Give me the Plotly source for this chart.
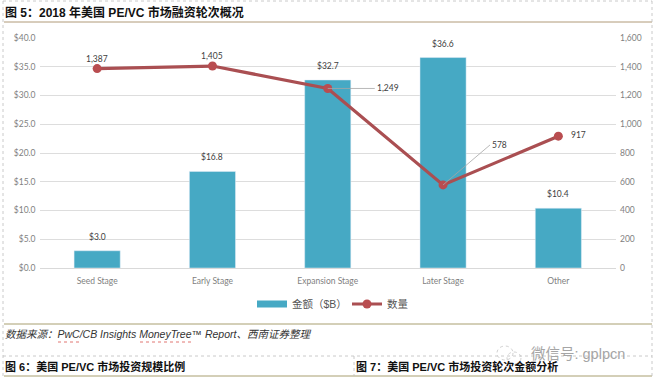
import plotly.graph_objects as go

categories = ["Seed Stage", "Early Stage", "Expansion Stage", "Later Stage", "Other"]
amounts = [3.0, 16.8, 32.7, 36.6, 10.4]
counts = [1387, 1405, 1249, 578, 917]
left_ticks = [0, 5, 10, 15, 20, 25, 30, 35, 40]
right_ticks = [0, 200, 400, 600, 800, 1000, 1200, 1400, 1600]

W, H = 658, 384
GREY = "#7f7f7f"
LATIN = "Lato, 'Noto Sans', sans-serif"
CJK = "'Liberation Sans', 'Noto Sans CJK SC', sans-serif"
px = lambda x: x / W
py = lambda y: 1 - y / H

fig = go.Figure()
fig.add_bar(
    x=categories, y=amounts, name="金额（$B）", marker_color="#46A9C4", width=0.4,
    showlegend=False,
)
# Legend entry with the wide swatch of the reference
fig.add_scatter(x=[None], y=[None], name="金额（$B）", mode="lines",
                line=dict(color="#46A9C4", width=7))
fig.add_scatter(
    x=categories, y=counts, name="数量", yaxis="y2", mode="lines+markers",
    line=dict(color="#AA4F52", width=3.2), marker=dict(color="#B94D50", size=9),
    cliponaxis=False,
)

fig.update_layout(
    width=W, height=H, margin=dict(l=0, r=0, t=0, b=0, autoexpand=False),
    paper_bgcolor="white", plot_bgcolor="white", showlegend=True, bargap=0.6,
    font=dict(family=LATIN, size=8.5, color=GREY),
    xaxis=dict(domain=[px(39.5), px(616)], showgrid=False, ticks="", showline=True,
               linecolor="#D9D9D9", tickfont=dict(size=8.5, color=GREY), anchor="y",
               ticklabelstandoff=5),
    yaxis=dict(domain=[py(268), py(38)], range=[0, 40], tickvals=left_ticks,
               ticktext=[f"${v:.1f}" for v in left_ticks], gridcolor="#DDDDDD",
               zeroline=False, ticks="", tickfont=dict(size=8.5, color=GREY),
               ticklabelstandoff=3),
    yaxis2=dict(domain=[py(268), py(38)], range=[0, 1600], tickvals=right_ticks,
                ticktext=[f"{v:,}" for v in right_ticks], overlaying="y", side="right",
                showgrid=False, zeroline=False, ticks="", anchor="x",
                tickfont=dict(size=8.5, color=GREY), ticklabelstandoff=3),
    legend=dict(orientation="h", x=px(252), y=py(304), xanchor="left", yanchor="middle",
                font=dict(size=10.5, family=CJK, color="#555555"), itemwidth=30,
                entrywidth=50, entrywidthmode="pixels",
                bgcolor="rgba(0,0,0,0)"),
)

# Data labels of the amount series
for c, v in zip(categories, amounts):
    fig.add_annotation(x=c, y=v, xref="x", yref="y", text=f"${v:.1f}", showarrow=False,
                       yshift=14, font=dict(size=8.5, color="#404040", family=LATIN))

# Data labels of the count series (two with leader lines)
offsets = [(0, -10), (0, -10), (47, 0), (47, -40), (20, -1)]
for c, n, (dx, dy) in zip(categories, counts, offsets):
    leader = c in ("Expansion Stage", "Later Stage")
    fig.add_annotation(
        x=c, y=n, xref="x", yref="y2", text=f"{n:,}", showarrow=leader,
        ax=dx, ay=dy, axref="pixel", ayref="pixel", arrowhead=0, arrowwidth=0.8,
        arrowcolor="#A6A6A6", standoff=0,
        xshift=0 if leader else dx, yshift=0 if leader else -dy,
        xanchor="left" if leader else "center", align="left",
        font=dict(size=8.5, color="#404040", family=LATIN),
    )

# Surrounding report page: captions
def note(x, y, text, size=10, family=CJK, color="#111111", **kw):
    fig.add_annotation(xref="paper", yref="paper", x=px(x), y=py(y), text=text,
                       showarrow=False, xanchor="left", yanchor="middle",
                       font=dict(size=size, family=family, color=color), **kw)

note(3, 12, "<b>图 5：2018 年美国 PE/VC 市场融资轮次概况</b>", size=12)
note(3, 334, "<i>数据来源：PwC/CB Insights MoneyTree™ Report、西南证券整理</i>", size=10.5, color="#333333")
note(3, 366, "<b>图 6：美国 PE/VC 市场投资规模比例</b>", size=11)
note(354, 366, "<b>图 7：美国 PE/VC 市场投资轮次金额分析</b>", size=11)
note(529, 354, "微信号: gplpcn", size=14.5, color="#a5a5a5")

def line(x0, y0, x1, y1, color, width=1, dash="solid"):
    fig.add_shape(type="line", xref="paper", yref="paper", x0=px(x0), y0=py(y0),
                  x1=px(x1), y1=py(y1), line=dict(color=color, width=width, dash=dash))

BROWN = "#B09A78"
line(4, 22, 652, 22, BROWN, 1)
line(4, 324, 652, 324, "#A89F70", 1)
line(4, 376, 652, 376, "#A89F70", 1)
for args in [(3, 1, 652, 1), (3, 1, 3, 376), (652, 1, 652, 376), (3, 356, 652, 356),
             (354, 356, 354, 376)]:
    line(*args, "#BDBDBD", 0.8, "dot")
line(58, 342, 79, 342, "#D9534F", 0.8, "dot")
line(140, 342, 193, 342, "#D9534F", 0.8, "dot")
# Watermark logo outline
for x0, y0, x1, y1 in [(497, 346, 513, 360), (507, 352, 521, 364)]:
    fig.add_shape(type="circle", xref="paper", yref="paper", x0=px(x0), y0=py(y0),
                  x1=px(x1), y1=py(y1), line=dict(color="#C4C4C4", width=0.8, dash="dot"))

fig.write_html("out.html", post_script="document.body.style.margin='0';",
               config=dict(displayModeBar=False))
